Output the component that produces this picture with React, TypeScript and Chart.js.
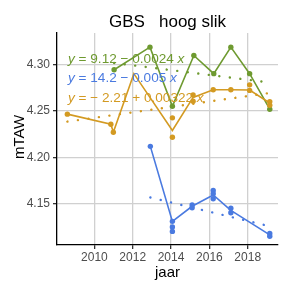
import React, { useEffect, useRef } from "react";
import { Chart, registerables } from "chart.js";

Chart.register(...registerables);

const titleText = "GBS   hoog slik";
const xTitle = "jaar";
const yTitle = "mTAW";
const xTicks = [2010, 2012, 2014, 2016, 2018];
const yTicks = [4.15, 4.2, 4.25, 4.3];

const greenColor = "#6E9A30";
const orangeColor = "#D39A22";
const blueColor = "#4A7AE0";

// green series (one value per date)
const greenX = [2011.03, 2012.9, 2014.07, 2015.19, 2016.23, 2017.12, 2018.1, 2019.15];
const greenY = [4.2942, 4.3185, 4.255, 4.3095, 4.29, 4.3185, 4.29, 4.2518];
const greenTrendX = [2011.03, 2019.15];
const greenTrendY = [4.3015, 4.2805];

// orange series: individual measurements and the connecting line
const orangeX = [2008.59, 2010.86, 2010.99, 2014.07, 2014.07, 2015.15, 2015.15, 2016.2, 2017.12, 2018.1, 2018.1, 2019.15, 2019.15];
const orangeY = [4.2465, 4.2357, 4.2271, 4.2425, 4.2217, 4.267, 4.2603, 4.2728, 4.2728, 4.272, 4.278, 4.26, 4.256];
const orangeLineX = [2008.59, 2010.86, 2010.99, 2012.06, 2014.07, 2015.15, 2016.2, 2017.12, 2018.1, 2019.15];
const orangeLineY = [4.2465, 4.2357, 4.2271, 4.29, 4.229, 4.2645, 4.2728, 4.2728, 4.2724, 4.2585];
const orangeTrendX = [2008.59, 2019.15];
const orangeTrendY = [4.2385, 4.2693];

// blue series: individual measurements and the connecting line
const blueX = [2012.92, 2014.07, 2014.07, 2014.07, 2015.1, 2015.1, 2016.2, 2016.2, 2016.2, 2017.12, 2017.12, 2019.15, 2019.15];
const blueY = [4.2119, 4.1313, 4.1253, 4.1205, 4.149, 4.146, 4.1645, 4.161, 4.1556, 4.1454, 4.1406, 4.1183, 4.1153];
const blueLineX = [2012.92, 2014.07, 2015.1, 2016.2, 2017.12, 2019.15];
const blueLineY = [4.2119, 4.1313, 4.1475, 4.1597, 4.143, 4.1168];
const blueTrendX = [2012.92, 2019.15];
const blueTrendY = [4.157, 4.126];

const equations = [
  { parts: [["y", true], [" = 9.12 \u2212 0.0024 ", false], ["x", true]], color: greenColor },
  { parts: [["y", true], [" = 14.2 \u2212 0.005 ", false], ["x", true]], color: blueColor },
  { parts: [["y", true], [" = \u2212 2.21 + 0.00322 ", false], ["x", true]], color: orangeColor },
];

const FONT = '"Liberation Sans", Arial, Helvetica, sans-serif';

const pts = (xs: number[], ys: number[]) => xs.map((x, i) => ({ x, y: ys[i] }));

const textPlugin = {
  id: "texts",
  afterDraw(chart: any) {
    const ctx = chart.ctx as CanvasRenderingContext2D;
    const ca = chart.chartArea;
    const cx = (ca.left + ca.right) / 2;
    ctx.save();
    ctx.fillStyle = "#000";
    ctx.textAlign = "center";
    ctx.textBaseline = "alphabetic";
    ctx.font = `17px ${FONT}`;
    ctx.fillText(titleText, cx, 26.5);
    ctx.font = `15px ${FONT}`;
    ctx.textBaseline = "middle";
    ctx.fillText(xTitle, cx, 273);
    ctx.save();
    ctx.translate(20, (ca.top + ca.bottom) / 2 - 2);
    ctx.rotate(-Math.PI / 2);
    ctx.fillText(yTitle, 0, 0);
    ctx.restore();

    // regression equations
    ctx.textAlign = "left";
    ctx.textBaseline = "middle";
    equations.forEach((eq, k) => {
      let x = ca.left + 11;
      const y = ca.top + 26 + k * 19.5;
      ctx.fillStyle = eq.color;
      eq.parts.forEach(([t, it]: any) => {
        ctx.font = `${it ? "italic " : ""}13.6px ${FONT}`;
        ctx.fillText(t, x, y);
        x += ctx.measureText(t).width;
      });
    });
    ctx.restore();
  },
};

export default function App() {
  const ref = useRef<HTMLCanvasElement | null>(null);

  useEffect(() => {
    document.body.style.margin = "0";
    const canvas = ref.current;
    if (!canvas) return;

    const trend = (xs: number[], ys: number[], color: string) => ({
      data: pts(xs, ys),
      showLine: true,
      borderColor: color,
      borderWidth: 2.4,
      borderDash: [0.1, 10.5],
      borderCapStyle: "round",
      pointRadius: 0,
      order: 3,
    });
    const line = (xs: number[], ys: number[], color: string) => ({
      data: pts(xs, ys),
      showLine: true,
      borderColor: color,
      borderWidth: 1.6,
      pointRadius: 0,
      order: 2,
    });
    const points = (xs: number[], ys: number[], color: string) => ({
      data: pts(xs, ys),
      showLine: false,
      backgroundColor: color,
      borderColor: color,
      borderWidth: 0,
      pointRadius: 2.7,
      order: 1,
    });

    const chart = new Chart(canvas, {
      type: "scatter",
      data: {
        datasets: [
          trend(orangeTrendX, orangeTrendY, orangeColor),
          trend(greenTrendX, greenTrendY, greenColor),
          trend(blueTrendX, blueTrendY, blueColor),
          line(orangeLineX, orangeLineY, orangeColor),
          line(greenX, greenY, greenColor),
          line(blueLineX, blueLineY, blueColor),
          points(orangeX, orangeY, orangeColor),
          points(greenX, greenY, greenColor),
          points(blueX, blueY, blueColor),
        ] as any,
      },
      options: {
        animation: false,
        responsive: false,
        maintainAspectRatio: false,
        layout: { padding: { top: 33, right: 1, left: 0, bottom: 0 } },
        plugins: { legend: { display: false }, tooltip: { enabled: false }, title: { display: false } },
        scales: {
          x: {
            type: "linear",
            min: 2008.05,
            max: 2019.58,
            afterFit: (s: any) => {
              s.height = 37;
            },
            afterBuildTicks: (s: any) => {
              s.ticks = xTicks.map((v) => ({ value: v }));
            },
            ticks: {
              autoSkip: false,
              maxRotation: 0,
              padding: 1.5,
              color: "#4D4D4D",
              font: { family: FONT, size: 12 },
              callback: (v: any) => String(v),
            },
            grid: { color: "#D0D0D0", lineWidth: 1.3, tickColor: "#333", tickLength: 4 },
            border: { display: true, color: "#000", width: 1.3 },
          },
          y: {
            type: "linear",
            min: 4.1059,
            max: 4.3337,
            afterFit: (s: any) => {
              s.width = 57;
            },
            afterBuildTicks: (s: any) => {
              s.ticks = yTicks.map((v) => ({ value: v }));
            },
            ticks: {
              autoSkip: false,
              padding: 3,
              color: "#4D4D4D",
              font: { family: FONT, size: 12 },
              callback: (v: any) => Number(v).toFixed(2),
            },
            grid: { color: "#D0D0D0", lineWidth: 1.3, tickColor: "#333", tickLength: 4 },
            border: { display: true, color: "#000", width: 1.3 },
          },
        },
      },
      plugins: [textPlugin],
    });
    return () => chart.destroy();
  }, []);

  return (
    <div style={{ position: "absolute", left: 0, top: 0, width: 282, height: 282, background: "#fff" }}>
      <canvas ref={ref} width={282} height={282} style={{ width: 282, height: 282, display: "block" }} />
    </div>
  );
}
